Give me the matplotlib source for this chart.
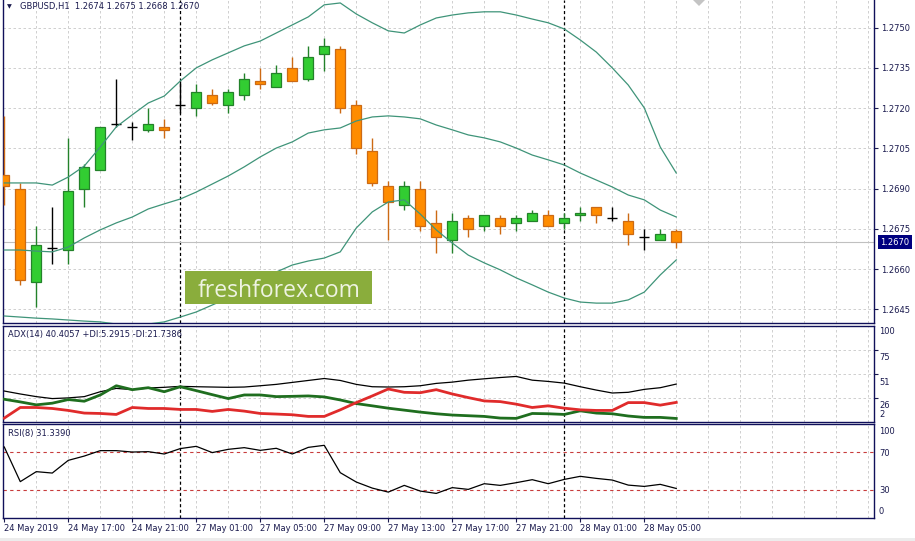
import numpy as np
import pandas as pd
import matplotlib
matplotlib.use("Agg")
import matplotlib.pyplot as plt
from matplotlib.patches import Rectangle, Polygon

W, H = 915, 541
NAVY, TXT, GRID = "#10105a", "#1a1a4e", "#c8c8c8"
BULL, BULL_E, BEAR, BEAR_E = "#32cd32", "#23822a", "#ff8c00", "#cc6a14"
BAND = "#3f9479"
plt.rcParams.update({"font.family": "DejaVu Sans", "font.size": 6})

# ---------- data: GBPUSD H1 ----------
times = list(pd.date_range("2019-05-24 13:00", "2019-05-24 23:00", freq="h")) + \
        list(pd.date_range("2019-05-27 00:00", "2019-05-28 07:00", freq="h"))

opens  = [1.2695, 1.2690, 1.2655, 1.2668, 1.2667, 1.2690, 1.2697, 1.2714, 1.2713, 1.2712,
          1.2713, 1.2721, 1.2720, 1.2725, 1.2721, 1.2725, 1.2730, 1.2728, 1.2735, 1.2731,
          1.2740, 1.2742, 1.2721, 1.2704, 1.2691, 1.2684, 1.2690, 1.2677, 1.2671, 1.2679,
          1.2676, 1.2679, 1.2677, 1.2678, 1.2680, 1.2677, 1.2680, 1.2683, 1.2679, 1.2678,
          1.2672, 1.2671, 1.2674]
highs  = [1.2717, 1.2692, 1.2676, 1.2683, 1.2709, 1.2699, 1.2713, 1.2731, 1.2715, 1.2720,
          1.2716, 1.2730, 1.2729, 1.2727, 1.2727, 1.2733, 1.2735, 1.2736, 1.2739, 1.2743,
          1.2746, 1.2743, 1.2723, 1.2709, 1.2693, 1.2693, 1.2693, 1.2682, 1.2681, 1.2680,
          1.2680, 1.2680, 1.2680, 1.2682, 1.2682, 1.2681, 1.2683, 1.2683, 1.2683, 1.2681,
          1.2675, 1.2675, 1.2675]
lows   = [1.2684, 1.2654, 1.2646, 1.2662, 1.2662, 1.2683, 1.2697, 1.2713, 1.2708, 1.2711,
          1.2709, 1.2718, 1.2717, 1.2721, 1.2718, 1.2723, 1.2727, 1.2728, 1.2730, 1.2730,
          1.2734, 1.2718, 1.2703, 1.2691, 1.2671, 1.2682, 1.2674, 1.2666, 1.2666, 1.2672,
          1.2674, 1.2673, 1.2674, 1.2678, 1.2676, 1.2675, 1.2678, 1.2677, 1.2678, 1.2669,
          1.2667, 1.2671, 1.2668]
closes = [1.2691, 1.2656, 1.2669, 1.2668, 1.2689, 1.2698, 1.2713, 1.2714, 1.2713, 1.2714,
          1.2712, 1.2721, 1.2726, 1.2722, 1.2726, 1.2731, 1.2729, 1.2733, 1.2730, 1.2739,
          1.2743, 1.2720, 1.2705, 1.2692, 1.2685, 1.2691, 1.2676, 1.2672, 1.2678, 1.2675,
          1.2680, 1.2676, 1.2679, 1.2681, 1.2676, 1.2679, 1.2681, 1.2680, 1.2679, 1.2673,
          1.2672, 1.2673, 1.2670]

bb_upper = [1.26921, 1.26921, 1.26921, 1.26913, 1.26943, 1.26984, 1.27055, 1.27130, 1.27175, 1.27219,
            1.27245, 1.27301, 1.27350, 1.27380, 1.27406, 1.27432, 1.27450, 1.27480, 1.27510, 1.27540,
            1.27585, 1.27592, 1.27551, 1.27518, 1.27488, 1.27480, 1.27510, 1.27536, 1.27547, 1.27555,
            1.27559, 1.27559, 1.27547, 1.27532, 1.27518, 1.27495, 1.27454, 1.27409, 1.27350, 1.27286,
            1.27201, 1.27055, 1.26958]
bb_mid   = [1.26671, 1.26671, 1.26667, 1.26664, 1.26682, 1.26716, 1.26746, 1.26772, 1.26794, 1.26824,
            1.26843, 1.26861, 1.26887, 1.26917, 1.26947, 1.26981, 1.27018, 1.27051, 1.27074, 1.27107,
            1.27119, 1.27126, 1.27152, 1.27167, 1.27171, 1.27167, 1.27160, 1.27137, 1.27119, 1.27100,
            1.27089, 1.27074, 1.27051, 1.27025, 1.27007, 1.26988, 1.26958, 1.26932, 1.26906, 1.26876,
            1.26858, 1.26820, 1.26794]
bb_lower = [1.26425, 1.26421, 1.26417, 1.26414, 1.26410, 1.26406, 1.26403, 1.26395, 1.26395, 1.26395,
            1.26403, 1.26421, 1.26440, 1.26466, 1.26492, 1.26522, 1.26555, 1.26589, 1.26615, 1.26630,
            1.26641, 1.26664, 1.26753, 1.26813, 1.26850, 1.26858, 1.26805, 1.26746, 1.26697, 1.26652,
            1.26623, 1.26597, 1.26567, 1.26541, 1.26514, 1.26492, 1.26477, 1.26473, 1.26473, 1.26485,
            1.26514, 1.26578, 1.26634]

adx      = [33.3, 30.3, 27.6, 25.6, 26.3, 27.6, 32.6, 36.0, 34.7, 36.4,
            37.1, 38.1, 37.7, 37.4, 37.1, 37.4, 38.7, 40.1, 42.1, 44.1,
            46.1, 44.1, 40.1, 37.7, 37.4, 37.7, 38.7, 41.1, 42.4, 44.4,
            45.8, 47.1, 48.2, 44.4, 43.1, 41.4, 37.7, 34.3, 31.3, 32.0,
            35.0, 36.7, 40.4]
plus_di  = [24.9, 22.2, 19.2, 20.9, 24.6, 22.9, 29.3, 38.7, 34.7, 36.7,
            32.6, 37.7, 33.7, 29.6, 25.6, 29.3, 29.3, 27.6, 27.9, 28.3,
            27.3, 24.2, 20.5, 18.2, 15.8, 13.8, 11.8, 10.1, 8.8, 8.1,
            7.4, 5.7, 5.4, 10.4, 10.1, 9.4, 13.1, 10.8, 10.1, 7.8,
            6.4, 6.4, 5.3]
minus_di = [5.7, 16.5, 16.5, 15.5, 13.5, 10.8, 10.4, 9.4, 16.5, 15.5,
            15.5, 14.5, 14.5, 12.5, 14.5, 12.8, 10.4, 9.8, 9.1, 7.4,
            7.4, 14.1, 21.5, 28.3, 35.4, 32.0, 31.6, 34.7, 30.3, 26.6,
            23.2, 22.5, 19.9, 16.5, 18.2, 15.8, 14.1, 13.5, 13.5, 21.5,
            21.5, 18.9, 21.7]
rsi      = [75.7, 38.6, 49.3, 47.8, 61.4, 66.0, 71.8, 71.8, 70.3, 70.7,
            68.2, 74.0, 76.4, 69.7, 73.2, 75.0, 72.1, 74.3, 68.2, 75.3,
            77.5, 48.2, 38.2, 31.7, 27.4, 34.6, 28.5, 26.0, 32.2, 30.3,
            36.4, 34.6, 37.5, 40.7, 36.4, 41.0, 44.3, 42.1, 40.3, 34.9,
            33.5, 35.7, 31.3]

price_ticks = [1.2645, 1.2660, 1.2675, 1.2690, 1.2705, 1.2720, 1.2735, 1.2750]

# ---------- figure ----------
fig = plt.figure(figsize=(W / 100, H / 100), dpi=100)
fig.patch.set_facecolor("white")

def px_axes(x0, y0, x1, y1):
    return fig.add_axes([x0 / W, 1 - y1 / H, (x1 - x0) / W, (y1 - y0) / H])

axM = px_axes(3, 0, 874, 322.7)
axA = px_axes(3, 325.7, 874, 421.7)
axR = px_axes(3, 424.3, 874, 517.7)

idx = np.arange(len(opens))
o, h, l, c = map(np.array, (opens, highs, lows, closes))
up, dn = c > o, c < o
dj = ~(up | dn)
day_starts = [i for i in range(1, len(times)) if times[i].date() != times[i - 1].date()]

for ax in (axM, axA, axR):
    ax.set_xlim(-0.08, 54.36)
    for s in ax.spines.values():
        s.set_color(NAVY); s.set_linewidth(1)
    ax.yaxis.tick_right()
    ax.tick_params(axis="y", colors=TXT, length=3, width=0.8, pad=2, labelsize=6)
    ax.tick_params(axis="x", bottom=False, labelbottom=False)
    for gx in range(2, 55, 2):
        ax.axvline(gx, color=GRID, lw=0.6, ls=(0, (3, 3)), zorder=0)
    for d in day_starts:
        ax.axvline(d, color="black", lw=0.9, ls=(0, (2.5, 2)), zorder=1)
axM.spines["top"].set_visible(False)

# ---------- main: candles + bollinger ----------
axM.set_ylim(1.26400, 1.27603)
axM.set_yticks(price_ticks)
axM.set_yticklabels([f"{p:.4f}" for p in price_ticks])
axM.grid(True, axis="y", color=GRID, lw=0.6, ls=(0, (3, 3)))
axM.set_axisbelow(True)
axM.axhline(c[-1], color="#c0c0c0", lw=0.8, zorder=1)

fill_col = np.where(up, BULL, BEAR)
edge_col = np.where(up, BULL_E, np.where(dn, BEAR_E, "black"))
m = ~dj
axM.vlines(idx, l, h, colors=edge_col, lw=1, zorder=3)
axM.bar(idx[m], np.abs(c - o)[m], bottom=np.minimum(o, c)[m], width=0.62,
        color=fill_col[m], edgecolor=edge_col[m], lw=0.9, zorder=4)
axM.hlines(c[dj], idx[dj] - 0.31, idx[dj] + 0.31, colors="black", lw=1, zorder=4)

for band in (bb_upper, bb_mid, bb_lower):
    axM.plot(idx, band, color=BAND, lw=0.9, zorder=5)

axM.text(1.0069, c[-1], f"{c[-1]:.4f}", transform=axM.get_yaxis_transform(),
         ha="left", va="center", color="white", fontsize=6, clip_on=False, zorder=10,
         bbox=dict(boxstyle="square,pad=0.3", fc="#000080", ec="none"))

fig.text(9 / W, 1 - 7 / H, "\u25bc", fontsize=4.5, ha="center", va="center", color=TXT)
fig.text(20 / W, 1 - 7 / H, f"GBPUSD,H1  {o[-1]:.4f} {h[-1]:.4f} {l[-1]:.4f} {c[-1]:.4f}",
         fontsize=6, ha="left", va="center", color=TXT)

# ---------- ADX ----------
axA.set_ylim(2, 100)
axA.plot(idx, adx, color="black", lw=0.9, zorder=3)
axA.plot(idx, plus_di, color="#1f6e1f", lw=2, zorder=4)
axA.plot(idx, minus_di, color="#e02b2b", lw=2, zorder=4)
axA.set_yticks([26.5, 51, 75.5]); axA.set_yticklabels([])
axA.grid(True, axis="y", color=GRID, lw=0.6, ls=(0, (3, 3)))
for v, lab, dy in [(100, "100", 6), (75.5, "75", 8), (51, "51", 9), (26.5, "26", 8), (2, "2", -7)]:
    axA.annotate(lab, xy=(1, v), xycoords=axA.get_yaxis_transform(), xytext=(3.6, -dy * 0.72),
                 textcoords="offset points", va="center", ha="left", color=TXT, fontsize=6,
                 annotation_clip=False)
axA.text(0.006, 0.905, "ADX(14) 40.4057 +DI:5.2915 -DI:21.7386", transform=axA.transAxes,
         va="center", ha="left", color=TXT, fontsize=6)

# ---------- RSI ----------
axR.set_ylim(0, 100)
axR.set_yticks([])
axR.plot(idx, rsi, color="black", lw=0.9, zorder=3)
for lv in (70, 30):
    axR.axhline(lv, color="#c83c3c", lw=0.8, ls=(0, (3, 3)), zorder=2)
for v, lab, dy in [(100, "100", 7), (70, "70", 1), (30, "30", 1), (0, "0", -6)]:
    axR.annotate(lab, xy=(1, v), xycoords=axR.get_yaxis_transform(), xytext=(3.6, -dy * 0.72),
                 textcoords="offset points", va="center", ha="left", color=TXT, fontsize=6,
                 annotation_clip=False)
axR.text(0.006, 0.905, f"RSI(8) 31.3390", transform=axR.transAxes,
         va="center", ha="left", color=TXT, fontsize=6)

tick_idx = idx[::4]
tick_lab = [times[0].strftime("%d %b %Y")] + [times[i].strftime("%d %b %H:%M") for i in tick_idx[1:]]
axR.set_xticks(tick_idx)
axR.set_xticklabels(tick_lab, ha="left")
axR.tick_params(axis="x", bottom=True, labelbottom=True, length=3, width=0.8,
                colors=TXT, pad=1.5, labelsize=6)

# ---------- overlays ----------
fig.add_artist(Rectangle((185 / W, 1 - 304.3 / H), 186.7 / W, 33.6 / H, transform=fig.transFigure,
                         fc="#8aad3c", ec="none", zorder=6))
fig.text(279 / W, 1 - 296.7 / H, "freshforex.com", family="Open Sans", fontsize=16.5,
         color="#eef3e2", ha="center", va="baseline", zorder=7)
fig.add_artist(Polygon([[693 / W, 1], [705 / W, 1], [699 / W, 1 - 6 / H]], closed=True,
                       transform=fig.transFigure, fc="#c4c4c4", ec="none", zorder=5))
fig.add_artist(Rectangle((0, 0), 1, 3 / H, transform=fig.transFigure, fc="#ececec", ec="none"))

fig.savefig("out.png", dpi=100, facecolor="white")
